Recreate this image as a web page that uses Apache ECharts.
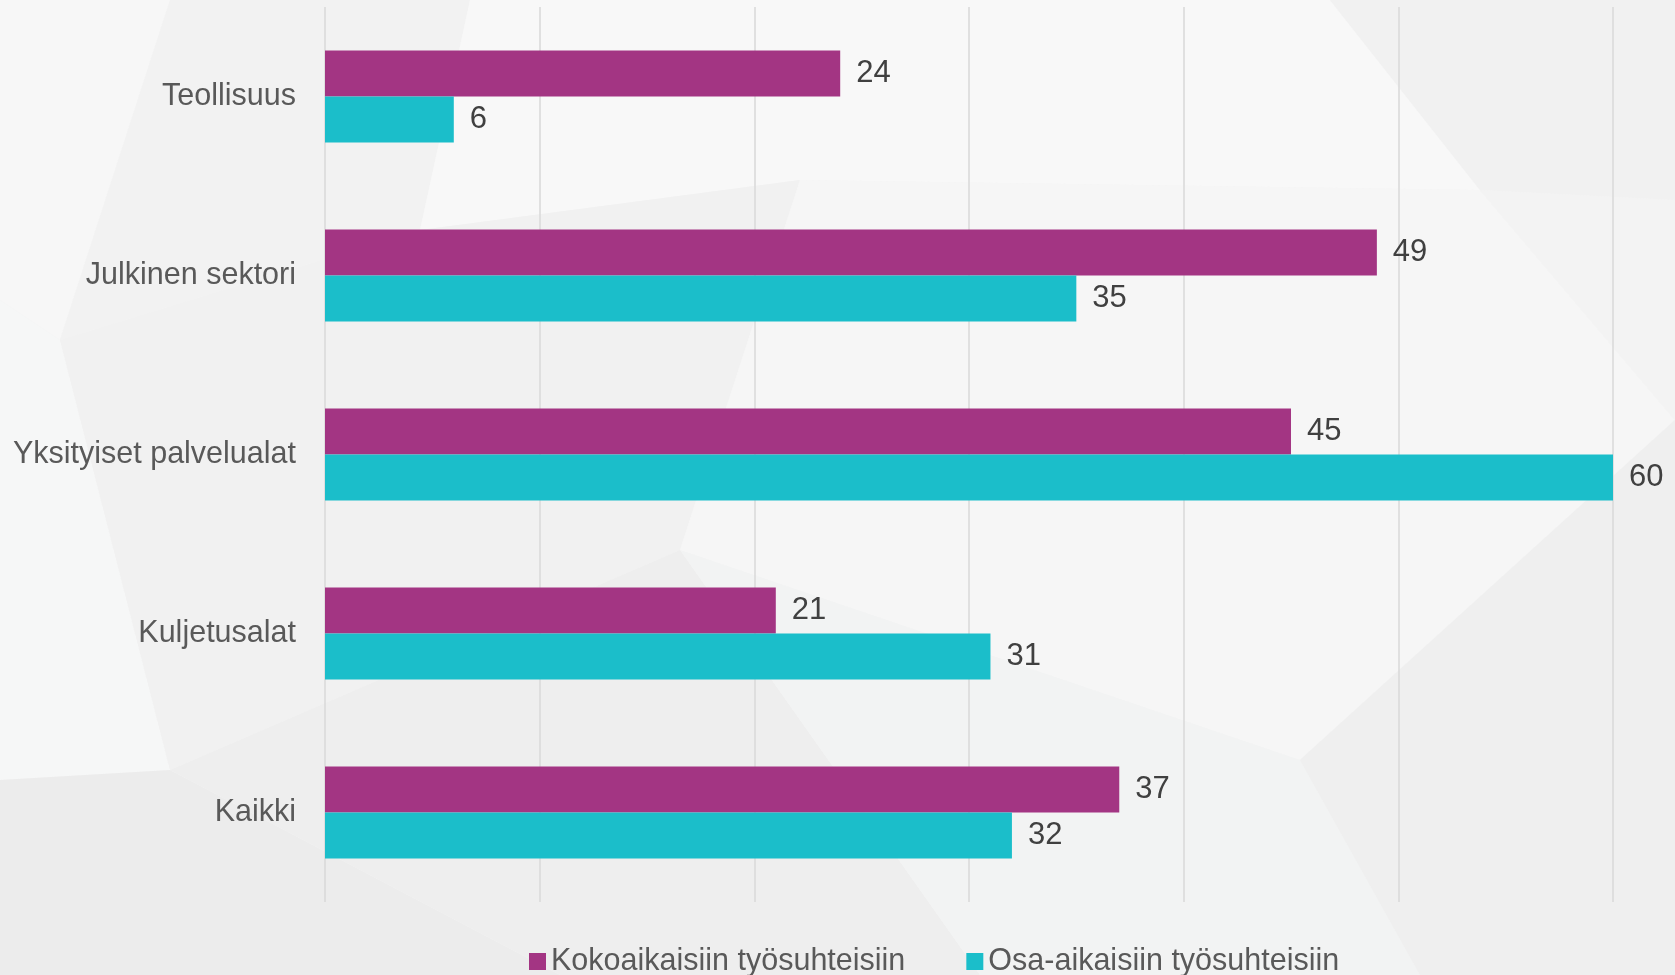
<!DOCTYPE html>
<html>
<head>
<meta charset="utf-8">
<script src="https://cdn.jsdelivr.net/npm/echarts@6/dist/echarts.min.js"></script>
<style>
html,body{margin:0;padding:0;background:#f4f4f4;}
#chart{width:1675px;height:975px;}
</style>
</head>
<body>
<div id="chart"></div>
<script>
const categories = ['Teollisuus', 'Julkinen sektori', 'Yksityiset palvelualat', 'Kuljetusalat', 'Kaikki'];
const seriesNames = ['Kokoaikaisiin työsuhteisiin', 'Osa-aikaisiin työsuhteisiin'];
const fullTime = [24, 49, 45, 21, 37];
const partTime = [6, 35, 60, 31, 32];

const chart = echarts.init(document.getElementById('chart'));
const labelStyle = {
  show: true,
  position: 'right',
  distance: 16,
  color: '#404040',
  fontSize: 31,
  fontFamily: 'Liberation Sans',
  padding: [3, 0, 0, 0]
};
const option = {
  backgroundColor: '#f4f4f4',
  animation: false,
  graphic: [
    { type: 'polygon', z: -10, silent: true, shape: { points: [[0,0],[170,0],[60,340],[0,300]] }, style: { fill: '#f7f7f7' } },
    { type: 'polygon', z: -10, silent: true, shape: { points: [[170,0],[470,0],[420,230],[60,340]] }, style: { fill: '#f2f2f2' } },
    { type: 'polygon', z: -10, silent: true, shape: { points: [[470,0],[1330,0],[1480,190],[800,180],[420,230]] }, style: { fill: '#f8f8f8' } },
    { type: 'polygon', z: -10, silent: true, shape: { points: [[1330,0],[1675,0],[1675,200],[1480,190]] }, style: { fill: '#f1f1f1' } },
    { type: 'polygon', z: -10, silent: true, shape: { points: [[0,300],[60,340],[170,770],[0,780]] }, style: { fill: '#f6f7f7' } },
    { type: 'polygon', z: -10, silent: true, shape: { points: [[60,340],[420,230],[800,180],[680,550],[170,770]] }, style: { fill: '#f1f1f1' } },
    { type: 'polygon', z: -10, silent: true, shape: { points: [[800,180],[1480,190],[1675,420],[1300,760],[680,550]] }, style: { fill: '#f6f6f6' } },
    { type: 'polygon', z: -10, silent: true, shape: { points: [[1480,190],[1675,200],[1675,420]] }, style: { fill: '#f3f3f3' } },
    { type: 'polygon', z: -10, silent: true, shape: { points: [[0,780],[170,770],[560,975],[0,975]] }, style: { fill: '#ececec' } },
    { type: 'polygon', z: -10, silent: true, shape: { points: [[170,770],[680,550],[980,975],[560,975]] }, style: { fill: '#eeeeee' } },
    { type: 'polygon', z: -10, silent: true, shape: { points: [[680,550],[1300,760],[1420,975],[980,975]] }, style: { fill: '#f2f3f3' } },
    { type: 'polygon', z: -10, silent: true, shape: { points: [[1300,760],[1675,420],[1675,975],[1420,975]] }, style: { fill: '#efefef' } }
  ],
  grid: { left: 325, right: 62, top: 7, bottom: 73, containLabel: false },
  legend: {
    data: seriesNames,
    left: 524,
    top: 941,
    icon: 'rect',
    itemWidth: 17,
    itemHeight: 17,
    itemGap: 61,
    textStyle: { color: '#595959', fontSize: 30.5, fontFamily: 'Liberation Sans', padding: [0,0,0,0] }
  },
  xAxis: {
    type: 'value',
    min: 0,
    max: 60,
    interval: 10,
    axisLabel: { show: false },
    axisLine: { show: false },
    axisTick: { show: false },
    splitLine: { show: true, lineStyle: { color: '#d9d9d9', width: 1.5 } }
  },
  yAxis: {
    type: 'category',
    data: categories,
    inverse: true,
    axisLine: { show: false },
    axisTick: { show: false },
    axisLabel: { color: '#595959', fontSize: 30.5, fontFamily: 'Liberation Sans', margin: 29, padding: [3, 0, 0, 0] }
  },
  series: [
    {
      name: seriesNames[0],
      type: 'bar',
      data: fullTime,
      barWidth: 46,
      barGap: '0%',
      itemStyle: { color: '#a33583' },
      label: labelStyle
    },
    {
      name: seriesNames[1],
      type: 'bar',
      data: partTime,
      barWidth: 46,
      barGap: '0%',
      itemStyle: { color: '#1bbeca' },
      label: labelStyle
    }
  ]
};
chart.setOption(option);
</script>
</body>
</html>
